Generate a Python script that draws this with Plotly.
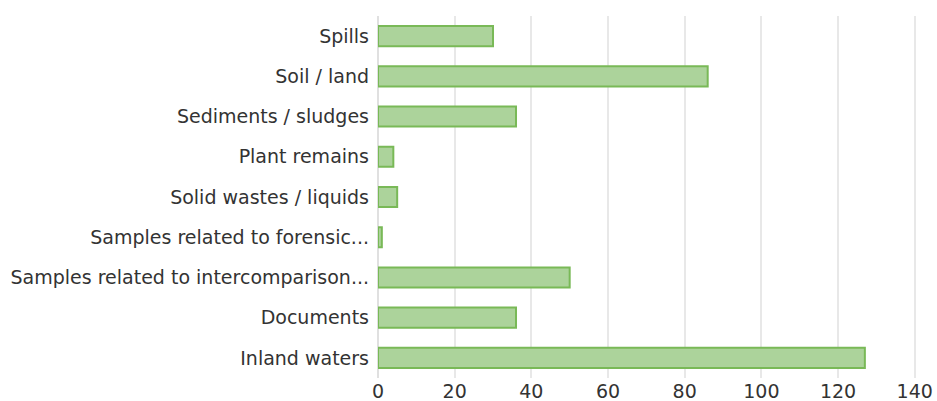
import plotly.graph_objects as go

categories = ["Spills", "Soil / land", "Sediments / sludges", "Plant remains",
              "Solid wastes / liquids", "Samples related to forensic...",
              "Samples related to intercomparison...", "Documents", "Inland waters"]
values = [30, 86, 36, 4, 5, 1, 50, 36, 127]
x_ticks = [0, 20, 40, 60, 80, 100, 120, 140]

fig = go.Figure(go.Bar(
    y=categories, x=values, orientation="h",
    marker=dict(color="#acd39b", line=dict(color="#79b957", width=2)),
    width=0.5,
))
fig.update_layout(
    width=937, height=401,
    margin=dict(l=378, r=20, t=16, b=23),
    plot_bgcolor="white", paper_bgcolor="white",
    font=dict(family="DejaVu Sans, sans-serif", size=19, color="#333333"),
    showlegend=False,
)
fig.update_yaxes(categoryorder="array", categoryarray=categories[::-1],
                 showgrid=False, ticks="", ticklabelstandoff=8,
                 showline=False, automargin=False)
fig.update_xaxes(range=[0, 140.6], tickvals=x_ticks, showgrid=True,
                 gridcolor="#e8e8e8", gridwidth=2, zeroline=True,
                 zerolinecolor="#e0e0e0", zerolinewidth=2,
                 showline=False, ticks="", automargin=False,
                 ticklabelstandoff=0, ticklabeloverflow="allow")
fig.write_html("out.html", config={"displayModeBar": False},
               post_script="document.body.style.margin='0';document.body.style.overflow='hidden';")
